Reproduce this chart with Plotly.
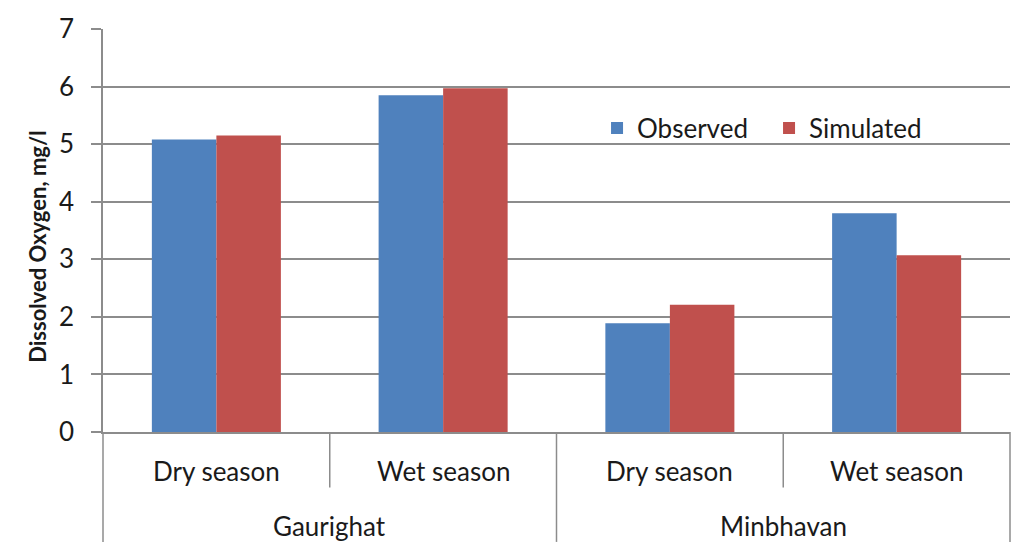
import plotly.graph_objects as go

stations = ["Gaurighat", "Gaurighat", "Minbhavan", "Minbhavan"]
seasons = ["Dry season", "Wet season", "Dry season", "Wet season"]
observed = [5.08, 5.85, 1.89, 3.80]
simulated = [5.15, 5.97, 2.21, 3.07]
y_ticks = [0, 1, 2, 3, 4, 5, 6, 7]

FONT = "Lato"
GRID = "#8c8c8c"
TXT = "#1a1a1a"

W, H = 1022, 556
ML, MR, MT, MB = 103, 12, 25, 124
ph = H - MT - MB

def py(pix):
    """pixel row -> paper y"""
    return (H - MB - pix) / ph

fig = go.Figure()
fig.add_trace(go.Bar(x=[stations, seasons], y=observed, name="Observed",
                     marker=dict(color="#4f81bd", line=dict(width=0))))
fig.add_trace(go.Bar(x=[stations, seasons], y=simulated, name="Simulated",
                     marker=dict(color="#c0504d", line=dict(width=0))))

fig.update_layout(
    width=W, height=H,
    margin=dict(l=ML, r=MR, t=MT, b=MB),
    paper_bgcolor="white", plot_bgcolor="white",
    barmode="group", bargap=0.431, bargroupgap=0,
    font=dict(family=FONT, size=26, color=TXT),
    legend=dict(orientation="h", x=0.5447, y=0.754, xanchor="left", yanchor="middle",
                bgcolor="rgba(0,0,0,0)", font=dict(size=26), itemwidth=30,
                entrywidth=127, traceorder="normal"),
    showlegend=True,
)
fig.update_yaxes(range=[0, 7], tickvals=y_ticks, showgrid=True, gridcolor=GRID, gridwidth=1.5,
                 showline=True, linecolor=GRID, linewidth=1.5, ticks="outside", ticklen=10,
                 tickcolor=GRID, tickwidth=1.5, tickfont=dict(size=26), ticklabelstandoff=12,
                 zeroline=False)
fig.update_xaxes(type="multicategory", showline=True, linecolor=GRID, linewidth=1.5,
                 showticklabels=False, showdividers=False, ticks="")

# y-axis title
fig.add_annotation(text="<b>Dissolved Oxygen, mg/l</b>", xref="paper", yref="paper",
                   x=-(103 - 38) / (W - ML - MR), y=py(245), textangle=-90, showarrow=False,
                   font=dict(size=22, color=TXT), xanchor="center", yanchor="middle")

n = len(seasons)
# season labels and inner dividers
for i, s in enumerate(seasons):
    fig.add_annotation(text=s, xref="paper", yref="paper", x=(i + 0.5) / n, y=py(471),
                       showarrow=False, font=dict(size=26, color=TXT),
                       xanchor="center", yanchor="middle")
for i in range(1, n):
    if stations[i] == stations[i - 1]:
        fig.add_shape(type="line", xref="paper", yref="paper", x0=i / n, x1=i / n,
                      y0=0, y1=py(488), line=dict(color=GRID, width=1.5))

# station labels and outer dividers
groups = []
for i, st in enumerate(stations):
    if not groups or groups[-1][0] != st:
        groups.append([st, i, i])
    else:
        groups[-1][2] = i
bounds = set()
for st, a, b in groups:
    fig.add_annotation(text=st, xref="paper", yref="paper", x=(a + b + 1) / 2 / n, y=py(527),
                       showarrow=False, font=dict(size=26, color=TXT),
                       xanchor="center", yanchor="middle")
    bounds.add(a / n)
    bounds.add((b + 1) / n)
for xb in sorted(bounds):
    fig.add_shape(type="line", xref="paper", yref="paper", x0=xb, x1=xb,
                  y0=0, y1=py(543), line=dict(color=GRID, width=1.5))

fig.write_html("out.html")
